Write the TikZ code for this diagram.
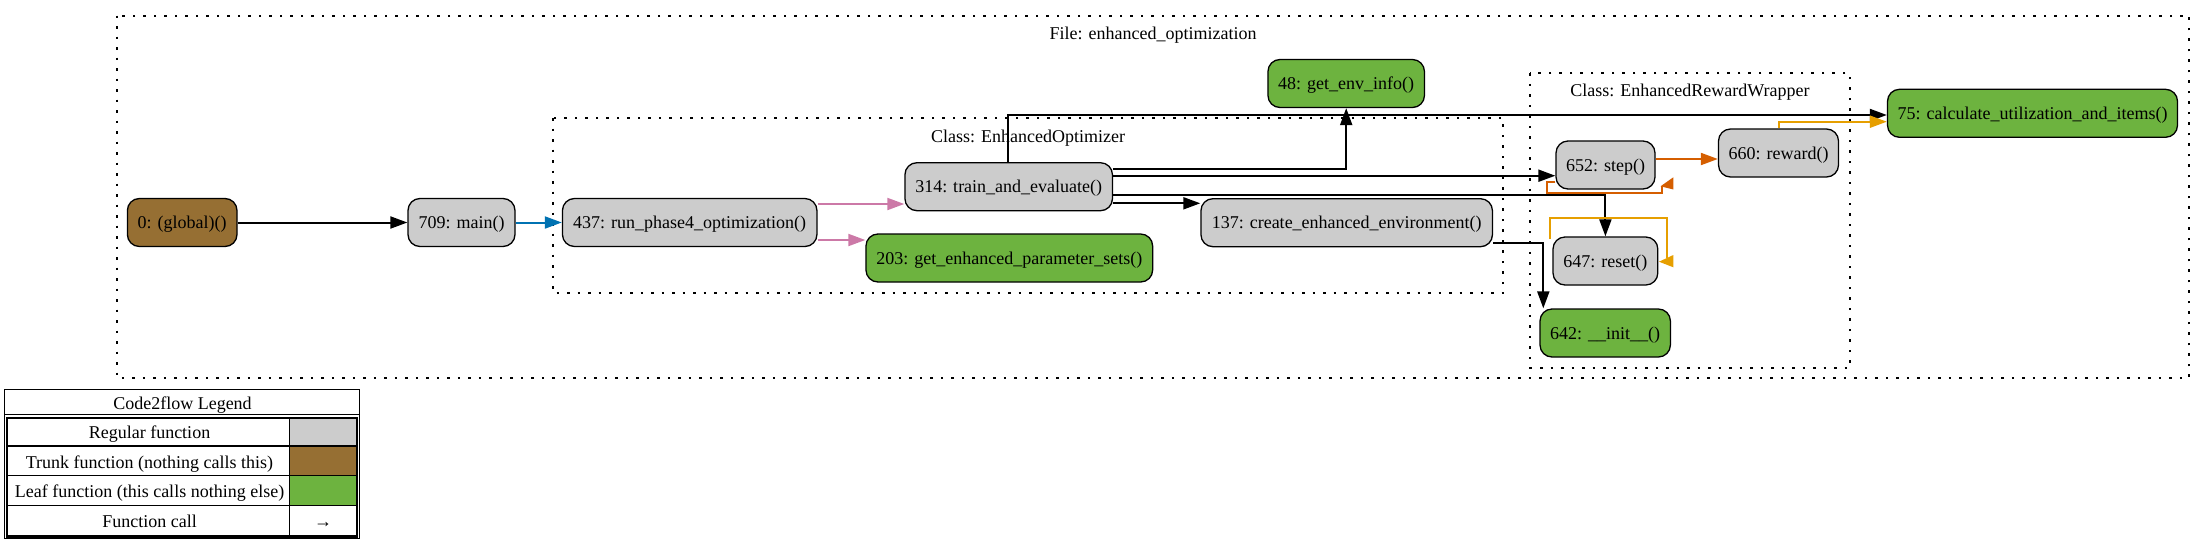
\documentclass[tikz,border=0pt]{standalone}
\usepackage{fontspec}
\setmainfont{Liberation Serif}
\usetikzlibrary{arrows.meta}

\definecolor{regular}{HTML}{CCCCCC}
\definecolor{trunk}{HTML}{966F33}
\definecolor{leaf}{HTML}{6DB33F}
\definecolor{cblue}{HTML}{0072B2}
\definecolor{cpink}{HTML}{CC79A7}
\definecolor{corange}{HTML}{E69F00}
\definecolor{cred}{HTML}{D55E00}

\begin{document}
\begin{tikzpicture}[x=1pt,y=-1pt,
  fn/.style={draw=black, line width=1.3pt, rounded corners=12pt, minimum height=48pt,
    inner sep=0pt, text height=16pt, text depth=4pt, font=\fontsize{18}{22}\selectfont},
  call/.style={line width=2pt, -{Triangle[length=17pt,width=12pt]}},
  loopline/.style={line width=2pt},
  cluster/.style={line width=1.7pt, dash pattern=on 2.5pt off 8pt},
  lbl/.style={font=\fontsize{18}{22}\selectfont, inner sep=0pt, text height=16pt, text depth=4pt},
  thinrule/.style={line width=1.3pt},
]
\useasboundingbox (0,0) rectangle (2205,544);

% clusters
\draw[cluster] (117,15.7) rectangle (2189,378.3);
\draw[cluster] (553,118) rectangle (1503,293);
\draw[cluster] (1530,73.3) rectangle (1850,367.7);
\node[lbl] (filelbl) at (1153,33.3) {File: enhanced\_optimization};
\node[lbl] (eolbl) at (1028,136) {Class: EnhancedOptimizer};
\node[lbl] (erwlbl) at (1690,90.7) {Class: EnhancedRewardWrapper};

% nodes
\node[fn, fill=trunk, minimum width=109.6pt] (n0) at (182.2,222.5) {0: (global)()};
\node[fn, fill=regular, minimum width=107pt] (n709) at (461.5,222.5) {709: main()};
\node[fn, fill=regular, minimum width=254.5pt] (n437) at (689.7,222.5) {437: run\_phase4\_optimization()};
\node[fn, fill=regular, minimum width=207.5pt] (n314) at (1008.7,186.7) {314: train\_and\_evaluate()};
\node[fn, fill=leaf, minimum width=286.7pt] (n203) at (1009.3,258) {203: get\_enhanced\_parameter\_sets()};
\node[fn, fill=regular, minimum width=291.5pt] (n137) at (1346.7,222.7) {137: create\_enhanced\_environment()};
\node[fn, fill=leaf, minimum width=156.5pt] (n48) at (1346.2,83.5) {48: get\_env\_info()};
\node[fn, fill=regular, minimum width=99pt] (n652) at (1605.5,165) {652: step()};
\node[fn, fill=regular, minimum width=120pt] (n660) at (1778.5,153) {660: reward()};
\node[fn, fill=regular, minimum width=104.8pt] (n647) at (1605.4,261) {647: reset()};
\node[fn, fill=leaf, minimum width=130.4pt] (n642) at (1605.2,333) {642: \_\_init\_\_()};
\node[fn, fill=leaf, minimum width=290pt] (n75) at (2032.5,113.3) {75: calculate\_utilization\_and\_items()};

% edges
\draw[call] (n0.east) -- (n709.west);
\draw[call, cblue] (n709.east) -- (n437.west);
\draw[call, cpink] (n437.east |- 0,204) -- (n314.west |- 0,204);
\draw[call, cpink] (n437.east |- 0,240) -- (n203.west |- 0,240);
\draw[call] (n314.east |- 0,203.3) -- (n137.west |- 0,203.3);
\draw[call] (n314.east |- 0,169) -| (n48.south);
\draw[call] (n314.north -| 1008.3,0) |- (n75.west |- 0,115);
\draw[call] (n314.east |- 0,175.7) -- (n652.west |- 0,175.7);
\draw[call] (n314.east |- 0,195) -| (n647.north);
\draw[call] (n137.east |- 0,243.3) -| (n642.north -| 1543.3,0);
\draw[call, cred] (n652.east |- 0,159) -- (n660.west |- 0,159);
\draw[call, corange] (n660.north) |- (n75.west |- 0,121.7);

% self loops
\draw[loopline, cred] (n652.west |- 0,182.3) -- (1546.7,182.3) -- (1546.7,192.7) -- (1661.7,192.7) -- (1661.7,185.5);
\fill[cred] (1660.5,186.3) -- (1673.3,177.3) -- (1673.3,189.5) -- cycle;
\draw[loopline, corange] (n647.north -| 1550,0) ++(0,2.7) -- (1550,218.3) -- (1666.7,218.3) -- (1666.7,258);
\fill[corange] (1659,261.7) -- (1673.3,255) -- (1673.3,267.3) -- cycle;

% legend
\fill[white] (7,418) rectangle (289.3,536.5);
\fill[regular] (289.3,418) rectangle (357,446);
\fill[trunk] (289.3,446) rectangle (357,475.7);
\fill[leaf] (289.3,475.7) rectangle (357,505.3);
\draw[thinrule] (4.7,389.7) rectangle (359.3,538.3);
\draw[line width=2.6pt] (7,418) rectangle (357,536.5);
\draw[thinrule] (4.7,414.3) -- (359.3,414.3);
\draw[thinrule] (7,446) -- (357,446);
\draw[thinrule] (7,475.7) -- (357,475.7);
\draw[thinrule] (7,505.3) -- (357,505.3);
\draw[thinrule] (289.3,418) -- (289.3,536.5);
\node[lbl] (legtitle) at (182.5,403) {Code2flow Legend};
\node[lbl] (legreg) at (149.5,432.5) {Regular function};
\node[lbl] (legtrunk) at (149.5,462) {Trunk function (nothing calls this)};
\node[lbl] (legleaf) at (149.5,491.5) {Leaf function (this calls nothing else)};
\node[lbl] (legcall) at (149.5,521) {Function call};
\node[lbl] (legarrow) at (323,521) {→};
\end{tikzpicture}
\end{document}
